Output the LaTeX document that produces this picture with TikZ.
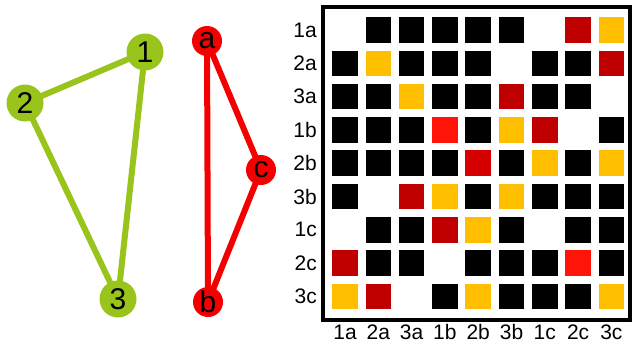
\documentclass[tikz,border=0pt]{standalone}
\usepackage{fontspec}
\setmainfont{Liberation Sans}
\usetikzlibrary{backgrounds}
\definecolor{lgreen}{RGB}{153,196,27}
\definecolor{lred}{RGB}{245,0,0}
\definecolor{cK}{RGB}{0,0,0}
\definecolor{cY}{RGB}{255,190,0}
\definecolor{cD}{RGB}{192,0,0}
\definecolor{cR}{RGB}{255,20,10}
\definecolor{cE}{RGB}{214,0,0}
\begin{document}
\begin{tikzpicture}[x=1pt,y=-1pt,
  gnode/.style={circle, fill=lgreen, minimum size=37pt, inner sep=0pt,
    font=\fontsize{30}{31}\selectfont},
  rnode/.style={circle, fill=lred, minimum size=30pt, inner sep=0pt,
    font=\fontsize{30}{31}\selectfont},
  gedge/.style={draw=lgreen, line width=6pt},
  redge/.style={draw=lred, line width=6pt},
  cell/.style={rectangle, minimum size=25.5pt, inner sep=0pt},
  lbl/.style={inner sep=0pt, font=\fontsize{21}{23}\selectfont},
  frame/.style={draw=black, line width=3.5pt, rectangle, inner sep=0pt}]
\useasboundingbox (0,0) rectangle (632,348);

% green graph
\node[gnode] (g1) at (145,52) {1};
\node[gnode] (g2) at (25,103) {2};
\node[gnode] (g3) at (118,299) {3};

% red graph
\node[rnode] (ra) at (207,41) {a};
\node[rnode] (rc) at (261,170) {c};
\node[rnode] (rb) at (208,302) {b};

% edges go under the nodes
\begin{scope}[on background layer]
  \fill[white] (0,0) rectangle (632,348);
  \draw[gedge] (g2.center) -- (g1.center);
  \draw[gedge] (g1.center) -- (g3.center);
  \draw[gedge] (g2.center) -- (g3.center);
  \draw[redge] (ra.center) -- (rb.center);
  \draw[redge] (ra.center) -- (rc.center);
  \draw[redge] (rc.center) -- (rb.center);
\end{scope}

% matrix frame
\node[frame, minimum width=307pt, minimum height=313pt] (box) at (476.5,163.5) {};

% matrix cells
\foreach \rowlist [count=\r] in {
  {0,K,K,K,K,K,0,D,Y},
  {K,Y,K,K,K,0,K,K,D},
  {K,K,Y,K,K,D,K,K,0},
  {K,K,K,R,K,Y,D,0,K},
  {K,K,K,K,E,K,Y,K,Y},
  {K,0,D,Y,K,Y,K,K,K},
  {0,K,K,D,Y,K,0,K,K},
  {D,K,K,0,K,K,K,R,K},
  {Y,D,0,K,Y,K,K,K,Y}} {
  \foreach \v [count=\c] in \rowlist {
    \if\v0\else
      \node[cell, fill=c\v] (m-\r-\c) at ({345+(\c-1)*33.3}, {30+(\r-1)*33.3}) {};
    \fi
  }
}

% row and column labels
\foreach \l [count=\i] in {1a,2a,3a,1b,2b,3b,1c,2c,3c} {
  \node[lbl, anchor=east] (rl-\i) at (317, {30+(\i-1)*33.3}) {\l};
  \node[lbl] (cl-\i) at ({345+(\i-1)*33.3}, 332) {\l};
}
\end{tikzpicture}
\end{document}
